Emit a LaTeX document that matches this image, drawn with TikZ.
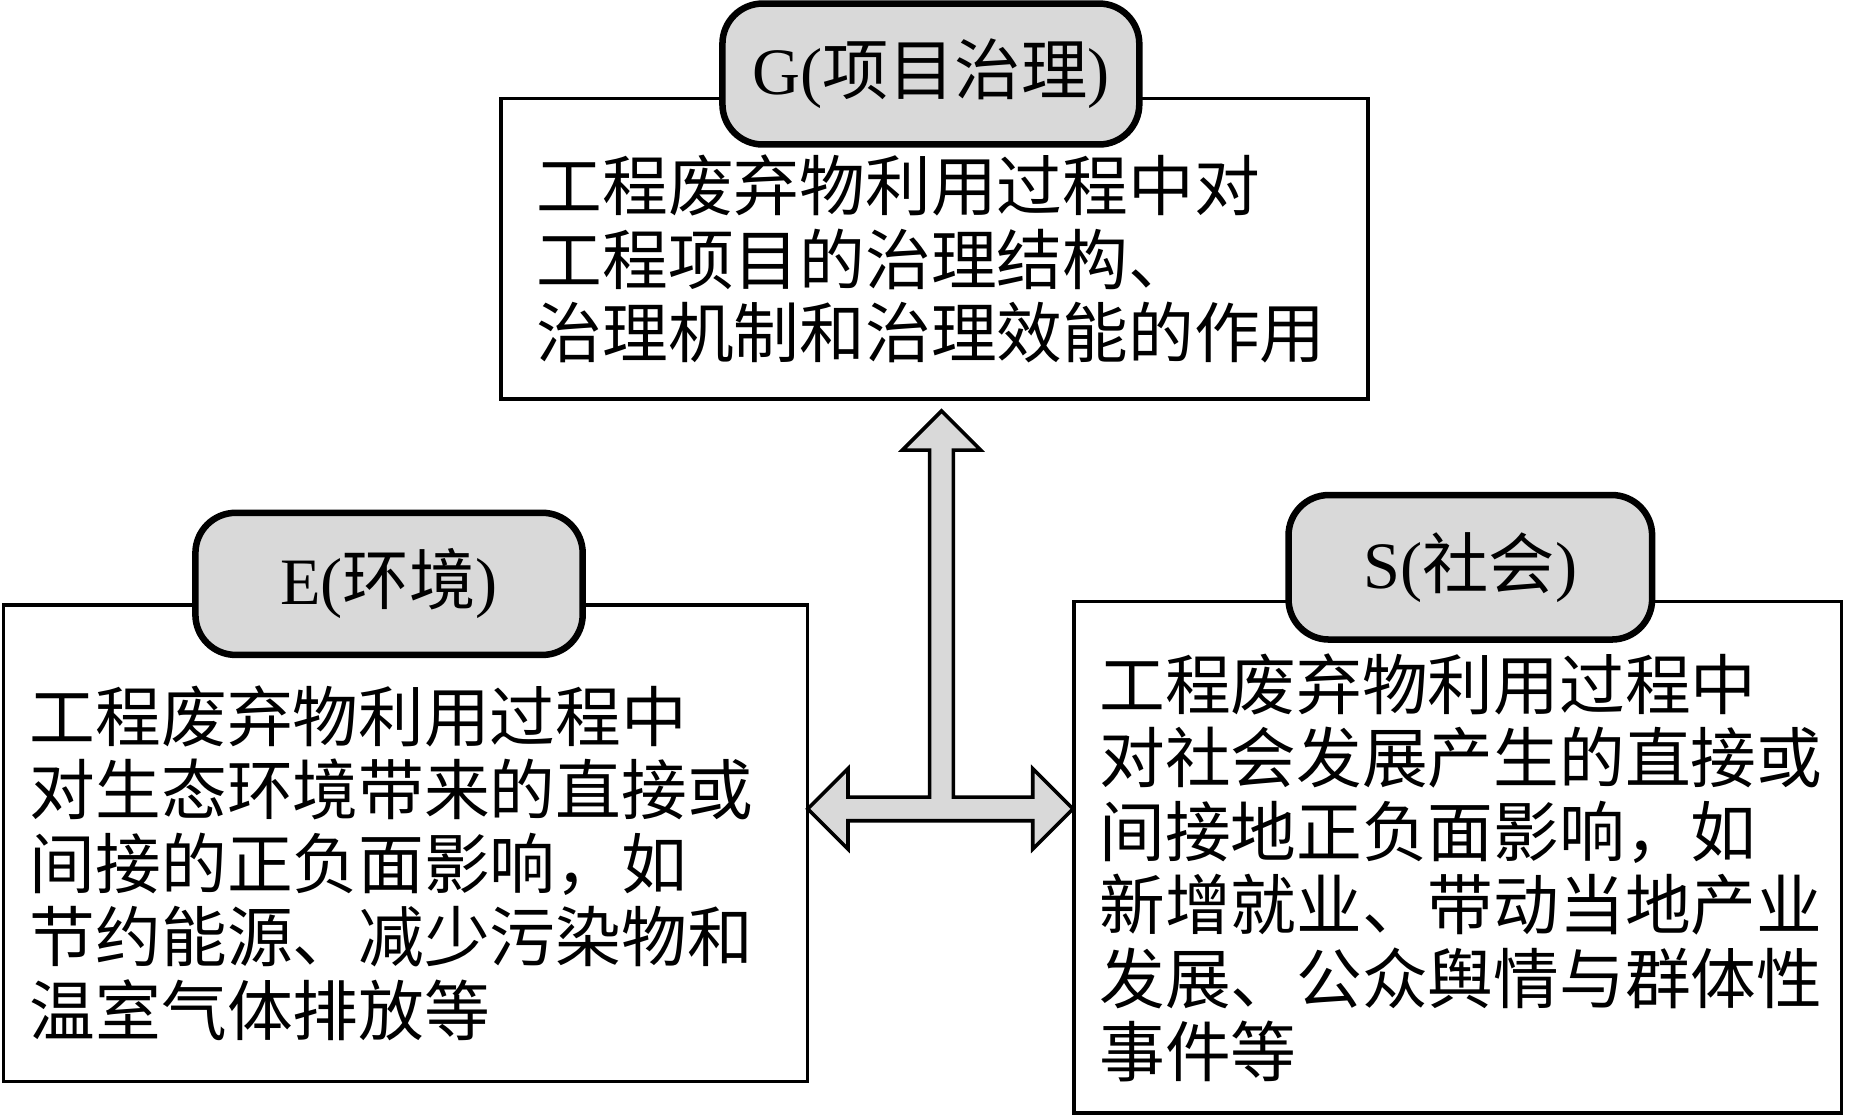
\documentclass[tikz,border=0pt]{standalone}
\usepackage{fontspec}
\setmainfont{Liberation Serif}
\newfontfamily\cjk{Noto Sans CJK SC}
\definecolor{labelgray}{gray}{0.85}
\tikzset{
  mainbox/.style={draw=black, line width=3pt, fill=white, inner sep=0pt},
  labelbox/.style={draw=black, line width=5.5pt, fill=labelgray, rounded corners=34pt, inner sep=0pt,
    font=\fontsize{56}{60}\selectfont},
  bodytext/.style={anchor=base west, inner sep=0pt, align=left,
    font=\cjk\fontsize{55.5}{62}\selectfont},
  tarrow/.style={draw=black, line width=3pt, fill=labelgray, line join=miter}
}
\begin{document}
\begin{tikzpicture}[x=1pt,y=-1pt]
\useasboundingbox (0,0) rectangle (1568,944);
% main boxes
\node[mainbox, minimum width=732pt, minimum height=254pt] (gbox) at (789,210) {};
\node[mainbox, minimum width=679pt, minimum height=402pt] (ebox) at (342.5,712) {};
\node[mainbox, minimum width=648pt, minimum height=432pt] (sbox) at (1231,724) {};
% labels
\node[labelbox, minimum width=352pt, minimum height=119pt] (glab) at (786,62.5) {G({\cjk 项目治理})};
\node[labelbox, minimum width=327pt, minimum height=120pt] (elab) at (328.5,493) {E({\cjk 环境})};
\node[labelbox, minimum width=307pt, minimum height=122pt] (slab) at (1241.5,479) {S({\cjk 社会})};
% arrow
\coordinate (atop) at (795,347);
\coordinate (aleft) at (682,683);
\coordinate (aright) at (906,683);
\draw[tarrow] (atop) -- (828,380) -- (805,380) -- (805,673) -- (872,673) -- (872,649)
  -- (aright) -- (872,717) -- (872,693) -- (716,693) -- (716,717) -- (aleft)
  -- (716,649) -- (716,673) -- (785,673) -- (785,380) -- (762,380) -- cycle;
% texts (base anchor = baseline of last line)
\node[bodytext] (gtext) at (453,302) {工程废弃物利用过程中对\\工程项目的治理结构、\\治理机制和治理效能的作用};
\node[bodytext] (etext) at (25,874) {工程废弃物利用过程中\\对生态环境带来的直接或\\间接的正负面影响，如\\节约能源、减少污染物和\\温室气体排放等};
\node[bodytext] (stext) at (928,909) {工程废弃物利用过程中\\对社会发展产生的直接或\\间接地正负面影响，如\\新增就业、带动当地产业\\发展、公众舆情与群体性\\事件等};
\end{tikzpicture}
\end{document}
